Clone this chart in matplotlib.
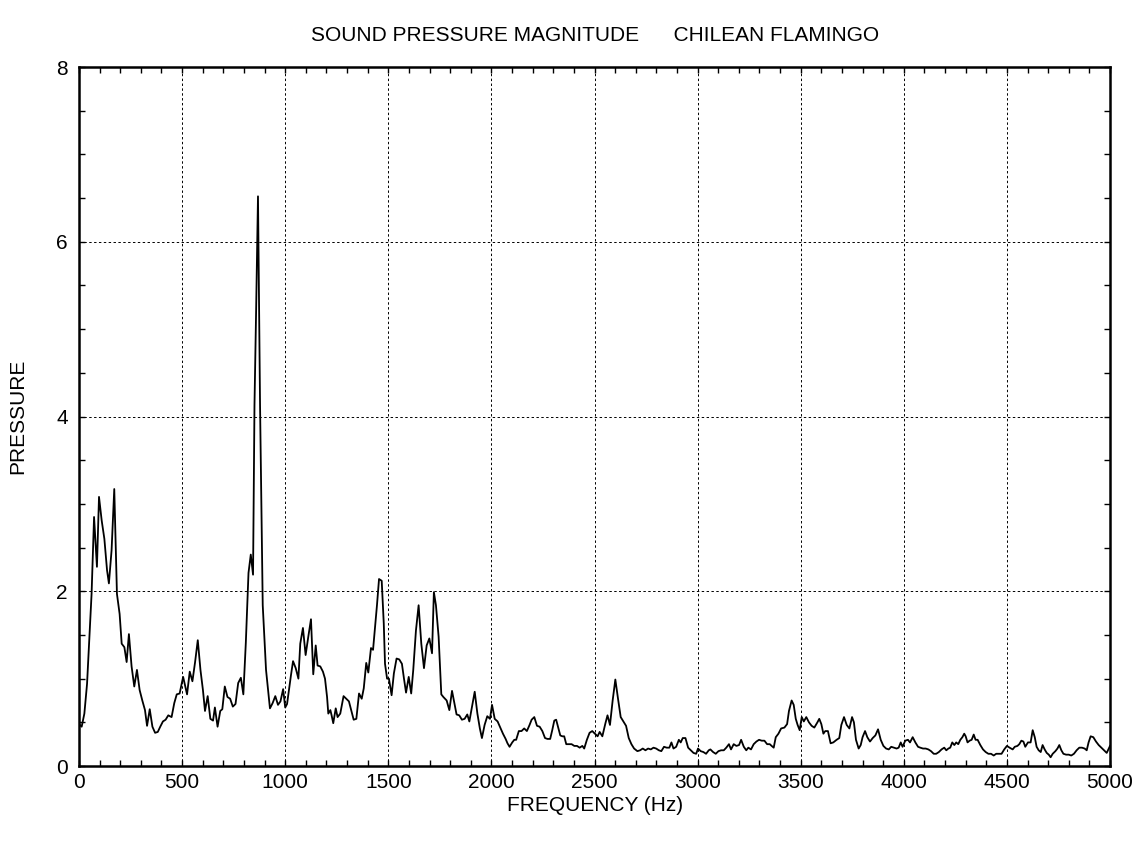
import numpy as np
import matplotlib.pyplot as plt
from matplotlib.ticker import MultipleLocator

plt.rcParams['font.family'] = ['Liberation Sans', 'DejaVu Sans']

# frequency (Hz) and pressure
freq = [0, 13, 26, 39, 52, 61, 73, 87, 97, 110, 123, 136, 145, 158, 171, 184, 197, 207,
        220, 231, 242, 255, 268, 281, 294, 307, 320, 330, 343, 356, 369, 382, 394, 407,
        420, 433, 449, 462, 474, 488, 505, 524, 537, 550, 563, 576, 589, 601, 611, 624,
        637, 650, 659, 672, 685, 695, 707, 720, 733, 746, 759, 772, 785, 797, 809, 822,
        833, 844, 851, 859, 868, 878, 891, 907, 926, 939, 952, 965, 977, 990, 1000,
        1009, 1018, 1028, 1038, 1051, 1064, 1073, 1086, 1099, 1112, 1125, 1136, 1148,
        1157, 1170, 1183, 1193, 1203, 1209, 1219, 1225, 1233, 1245, 1254, 1267, 1283,
        1296, 1309, 1319, 1332, 1345, 1358, 1371, 1381, 1393, 1403, 1416, 1426, 1435,
        1445, 1455, 1468, 1478, 1484, 1494, 1503, 1516, 1527, 1540, 1553, 1566, 1576,
        1586, 1599, 1611, 1621, 1634, 1647, 1660, 1673, 1686, 1699, 1712, 1721, 1731,
        1744, 1757, 1767, 1783, 1796, 1809, 1822, 1831, 1844, 1857, 1870, 1883, 1893,
        1906, 1919, 1932, 1944, 1954, 1967, 1980, 1993, 2003, 2016, 2030, 2043, 2056,
        2069, 2078, 2088, 2101, 2111, 2120, 2133, 2146, 2159, 2172, 2185, 2195, 2208,
        2221, 2234, 2247, 2260, 2272, 2285, 2295, 2305, 2314, 2324, 2334, 2344, 2353,
        2363, 2376, 2389, 2402, 2415, 2428, 2441, 2450, 2463, 2476, 2489, 2502, 2515,
        2525, 2538, 2553, 2563, 2575, 2588, 2601, 2614, 2627, 2640, 2653, 2666, 2679,
        2692, 2708, 2721, 2734, 2747, 2760, 2773, 2786, 2799, 2812, 2824, 2837, 2850,
        2863, 2873, 2883, 2896, 2909, 2918, 2928, 2941, 2954, 2967, 2980, 2993, 3002,
        3015, 3028, 3041, 3054, 3062, 3075, 3088, 3101, 3114, 3127, 3139, 3152, 3162,
        3175, 3188, 3201, 3211, 3224, 3236, 3246, 3259, 3272, 3285, 3298, 3311, 3324,
        3337, 3350, 3359, 3369, 3379, 3392, 3405, 3421, 3434, 3443, 3456, 3466, 3476,
        3485, 3495, 3505, 3515, 3527, 3540, 3553, 3566, 3581, 3590, 3600, 3610, 3619,
        3632, 3645, 3658, 3674, 3687, 3697, 3710, 3723, 3736, 3749, 3758, 3768, 3781,
        3791, 3800, 3812, 3823, 3836, 3849, 3862, 3875, 3888, 3901, 3914, 3927, 3939,
        3952, 3965, 3975, 3985, 3994, 4007, 4020, 4030, 4043, 4056, 4069, 4080, 4093,
        4106, 4119, 4132, 4145, 4157, 4170, 4183, 4196, 4206, 4216, 4225, 4235, 4245,
        4254, 4264, 4274, 4284, 4293, 4300, 4309, 4319, 4329, 4339, 4348, 4358, 4371,
        4384, 4397, 4410, 4423, 4436, 4448, 4461, 4474, 4487, 4500, 4513, 4528, 4538,
        4551, 4560, 4570, 4580, 4589, 4602, 4615, 4625, 4635, 4644, 4654, 4664, 4673,
        4683, 4693, 4703, 4712, 4722, 4735, 4745, 4754, 4764, 4774, 4787, 4800, 4812,
        4825, 4838, 4851, 4864, 4877, 4887, 4896, 4906, 4919, 4932, 4945, 4958, 4971,
        4984, 4994, 5000]
pressure = [0.48, 0.45, 0.60, 0.94, 1.55, 1.97, 2.85, 2.28, 3.08, 2.81, 2.60, 2.24, 2.09,
            2.47, 3.17, 1.97, 1.74, 1.40, 1.36, 1.19, 1.51, 1.14, 0.91, 1.10, 0.87, 0.75,
            0.64, 0.46, 0.65, 0.45, 0.38, 0.39, 0.45, 0.51, 0.53, 0.58, 0.56, 0.72, 0.82,
            0.83, 1.02, 0.82, 1.08, 0.97, 1.19, 1.44, 1.10, 0.87, 0.63, 0.80, 0.54, 0.52,
            0.67, 0.45, 0.63, 0.65, 0.91, 0.79, 0.77, 0.68, 0.71, 0.95, 1.01, 0.82, 1.41,
            2.21, 2.42, 2.19, 4.13, 5.22, 6.52, 4.13, 1.84, 1.10, 0.66, 0.72, 0.80, 0.70,
            0.74, 0.88, 0.67, 0.71, 0.87, 1.04, 1.20, 1.12, 1.00, 1.40, 1.58, 1.27, 1.48,
            1.68, 1.05, 1.38, 1.15, 1.14, 1.08, 1.00, 0.79, 0.60, 0.64, 0.58, 0.49, 0.66,
            0.56, 0.60, 0.80, 0.77, 0.74, 0.65, 0.53, 0.54, 0.83, 0.77, 0.89, 1.18, 1.07,
            1.35, 1.33, 1.57, 1.84, 2.14, 2.12, 1.63, 1.17, 1.00, 1.00, 0.81, 1.06, 1.23,
            1.22, 1.17, 1.00, 0.84, 1.02, 0.83, 1.10, 1.55, 1.84, 1.40, 1.12, 1.38, 1.46,
            1.29, 1.99, 1.84, 1.48, 0.82, 0.79, 0.75, 0.64, 0.86, 0.70, 0.59, 0.58, 0.53,
            0.54, 0.59, 0.51, 0.68, 0.85, 0.60, 0.43, 0.32, 0.47, 0.57, 0.54, 0.70, 0.54,
            0.51, 0.44, 0.37, 0.31, 0.26, 0.22, 0.27, 0.30, 0.30, 0.40, 0.40, 0.43, 0.40,
            0.47, 0.53, 0.56, 0.46, 0.45, 0.40, 0.32, 0.31, 0.31, 0.41, 0.52, 0.53, 0.44,
            0.35, 0.34, 0.34, 0.25, 0.25, 0.25, 0.23, 0.23, 0.21, 0.23, 0.20, 0.30, 0.38,
            0.40, 0.37, 0.34, 0.39, 0.34, 0.49, 0.58, 0.47, 0.75, 0.99, 0.77, 0.56, 0.51,
            0.46, 0.32, 0.25, 0.20, 0.17, 0.18, 0.20, 0.18, 0.20, 0.19, 0.21, 0.20, 0.18,
            0.17, 0.22, 0.21, 0.21, 0.27, 0.20, 0.22, 0.30, 0.27, 0.32, 0.32, 0.21, 0.18,
            0.15, 0.14, 0.20, 0.17, 0.16, 0.14, 0.18, 0.19, 0.16, 0.14, 0.17, 0.18, 0.18,
            0.21, 0.25, 0.19, 0.25, 0.23, 0.24, 0.30, 0.22, 0.18, 0.21, 0.19, 0.25, 0.28,
            0.30, 0.29, 0.29, 0.25, 0.25, 0.23, 0.21, 0.33, 0.37, 0.43, 0.44, 0.48, 0.63,
            0.75, 0.70, 0.54, 0.47, 0.41, 0.56, 0.51, 0.56, 0.50, 0.46, 0.44, 0.50, 0.54,
            0.48, 0.37, 0.40, 0.40, 0.26, 0.27, 0.30, 0.32, 0.47, 0.56, 0.47, 0.43, 0.56,
            0.50, 0.30, 0.20, 0.24, 0.33, 0.40, 0.33, 0.28, 0.32, 0.35, 0.42, 0.30, 0.23,
            0.20, 0.19, 0.22, 0.21, 0.20, 0.21, 0.27, 0.22, 0.29, 0.30, 0.27, 0.33, 0.27,
            0.22, 0.21, 0.20, 0.20, 0.19, 0.17, 0.14, 0.14, 0.16, 0.19, 0.21, 0.18, 0.20,
            0.21, 0.27, 0.24, 0.27, 0.25, 0.30, 0.33, 0.37, 0.34, 0.27, 0.29, 0.30, 0.36,
            0.30, 0.30, 0.24, 0.19, 0.16, 0.14, 0.14, 0.12, 0.14, 0.14, 0.14, 0.19, 0.23,
            0.21, 0.19, 0.22, 0.23, 0.25, 0.29, 0.28, 0.22, 0.27, 0.27, 0.41, 0.33, 0.22,
            0.18, 0.16, 0.24, 0.19, 0.15, 0.13, 0.10, 0.14, 0.17, 0.20, 0.24, 0.18, 0.14,
            0.13, 0.13, 0.12, 0.14, 0.18, 0.21, 0.21, 0.20, 0.18, 0.27, 0.34, 0.33, 0.28,
            0.24, 0.21, 0.18, 0.15, 0.20, 0.23]

title = 'SOUND PRESSURE MAGNITUDE      CHILEAN FLAMINGO'
x_ticks = np.arange(0, 5001, 500)
y_ticks = np.arange(0, 9, 2)

fig = plt.figure(figsize=(11.4, 8.44), dpi=100)
ax = fig.add_axes([0.0693, 0.0924, 0.9044, 0.8282])

ax.plot(freq, pressure, color='black', linewidth=1.3)

ax.set_xlim(0, 5000)
ax.set_ylim(0, 8)
ax.set_xticks(x_ticks)
ax.set_yticks(y_ticks)
ax.xaxis.set_minor_locator(MultipleLocator(100))
ax.yaxis.set_minor_locator(MultipleLocator(0.5))
ax.tick_params(which='both', direction='in', top=True, right=True, labelsize=15)
ax.tick_params(which='both', length=4, width=1)
ax.tick_params(axis='x', pad=5)
ax.tick_params(axis='y', pad=8)
for s in ax.spines.values():
    s.set_linewidth(1.8)

ax.grid(True, which='major', color='black', linestyle=(0, (2.5, 2.5)), linewidth=0.7)

# axis labels and title placed in figure coords
fig.text(0.522, 0.046, 'FREQUENCY (Hz)', fontsize=15, ha='center', va='center')
fig.text(0.016, 0.5065, 'PRESSURE', fontsize=15, ha='center', va='center', rotation=90)
fig.text(0.522, 0.9585, title, fontsize=15, ha='center', va='center')

fig.savefig('out.png', dpi=100)
